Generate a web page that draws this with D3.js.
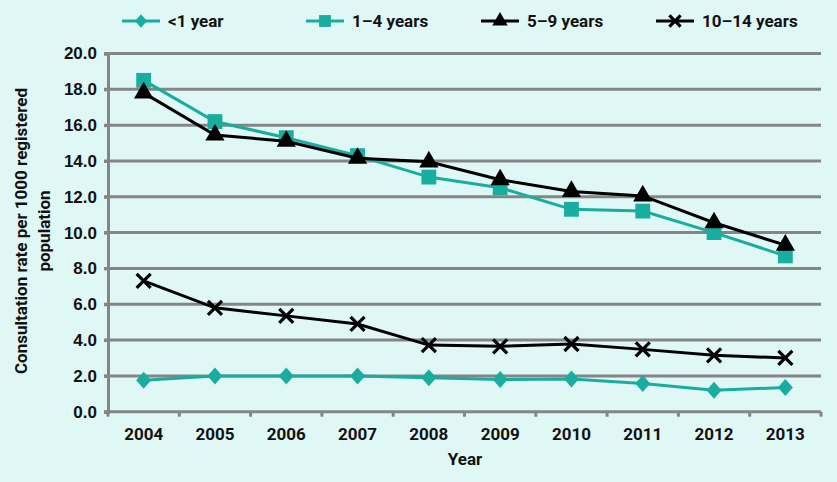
<!DOCTYPE html>
<html>
<head>
<meta charset="utf-8">
<script src="https://cdn.jsdelivr.net/npm/d3@7"></script>
<style>
  body { margin: 0; background: #dff7f5; }
  svg { display: block; font-family: Roboto, "DejaVu Sans", sans-serif; font-weight: bold; }
</style>
</head>
<body>
<svg id="chart" viewBox="0 0 837 482" width="837" height="482"></svg>
<script>
const years = [2004, 2005, 2006, 2007, 2008, 2009, 2010, 2011, 2012, 2013]
const under1 = [1.75, 2.0, 2.0, 2.0, 1.9, 1.8, 1.83, 1.58, 1.2, 1.35]
const age1to4 = [18.5, 16.2, 15.3, 14.3, 13.1, 12.5, 11.3, 11.2, 10.0, 8.7]
const age5to9 = [17.8, 15.45, 15.1, 14.15, 13.95, 12.95, 12.3, 12.05, 10.55, 9.3]
const age10to14 = [7.3, 5.8, 5.35, 4.9, 3.72, 3.65, 3.78, 3.48, 3.15, 3.0]
const yTicks = [0, 2, 4, 6, 8, 10, 12, 14, 16, 18, 20]

const teal = "#19ad9f"
const grey = "#858585"

const series = [
    {name: "<1 year", values: under1, color: teal, shape: "diamond", lx: 122},
    {name: "1\u20134 years", values: age1to4, color: teal, shape: "square", lx: 306},
    {name: "5\u20139 years", values: age5to9, color: "#000", shape: "triangle", lx: 481},
    {name: "10\u201314 years", values: age10to14, color: "#000", shape: "cross", lx: 656}
]

const svg = d3.select("#chart")
const plotL = 108, plotR = 821, plotT = 53.5, plotB = 411.7

const x = d3.scalePoint().domain(years).range([plotL, plotR]).padding(0.5)
const y = d3.scaleLinear().domain([0, 20]).range([plotB, plotT])

// gridlines
svg.append("g")
    .selectAll("line")
    .data(yTicks.filter(d => d > 0))
    .enter()
    .append("line")
    .attr("x1", plotL - 4).attr("x2", plotR)
    .attr("y1", d => y(d)).attr("y2", d => y(d))
    .attr("stroke", grey).attr("stroke-width", 3)

// y axis
const yAxis = svg.append("g")
    .attr("transform", `translate(${plotL},0)`)
    .call(d3.axisLeft(y).tickValues(yTicks).tickFormat(d3.format(".1f")).tickSize(4).tickPadding(7))
yAxis.select(".domain").attr("stroke", grey).attr("stroke-width", 3)
yAxis.selectAll(".tick line").attr("stroke", grey).attr("stroke-width", 3)
yAxis.selectAll("text").attr("font-size", 17).attr("fill", "#111").attr("font-family", null)

// x axis: ticks between categories
const step = x.step()
svg.append("line")
    .attr("x1", plotL - 4).attr("x2", plotR)
    .attr("y1", plotB).attr("y2", plotB)
    .attr("stroke", grey).attr("stroke-width", 3)
svg.append("g")
    .selectAll("line")
    .data(d3.range(years.length + 1))
    .enter()
    .append("line")
    .attr("x1", i => plotL + i * step).attr("x2", i => plotL + i * step)
    .attr("y1", plotB).attr("y2", plotB + 5)
    .attr("stroke", grey).attr("stroke-width", 3)
svg.append("g")
    .selectAll("text")
    .data(years)
    .enter()
    .append("text")
    .attr("x", d => x(d)).attr("y", 440)
    .attr("text-anchor", "middle")
    .attr("font-size", 17).attr("fill", "#111")
    .text(d => d)

svg.append("text")
    .attr("x", 465).attr("y", 465)
    .attr("text-anchor", "middle")
    .attr("font-size", 17).attr("fill", "#111")
    .text("Year")

// y title
const yt = svg.append("text")
    .attr("transform", "translate(27,231) rotate(-90)")
    .attr("text-anchor", "middle")
    .attr("font-size", 17).attr("fill", "#111")
yt.append("tspan").attr("x", 0).attr("dy", 0).text("Consultation rate per 1000 registered")
yt.append("tspan").attr("x", 0).attr("dy", 23).text("population")

function marker(g, shape, color, k) {
    if (shape === "cross") {
        const r = 7 * k
        g.append("path")
            .attr("d", `M${-r},${-r}L${r},${r}M${-r},${r}L${r},${-r}`)
            .attr("stroke", color).attr("stroke-width", 3.2).attr("fill", "none")
    } else if (shape === "diamond") {
        const w = 7.5 * k, h = 8.5 * k
        g.append("path")
            .attr("d", `M0,${-h}L${w},0L0,${h}L${-w},0Z`)
            .attr("fill", color)
    } else {
        const sym = {square: d3.symbolSquare, triangle: d3.symbolTriangle}[shape]
        const size = {square: 220, triangle: 160}[shape]
        g.append("path")
            .attr("d", d3.symbol().type(sym).size(size * k * k)())
            .attr("fill", color)
    }
}

const line = d3.line()
    .x((d, i) => x(years[i]))
    .y(d => y(d))

series.forEach(s => {
    svg.append("path")
        .datum(s.values)
        .attr("d", line)
        .attr("fill", "none")
        .attr("stroke", s.color)
        .attr("stroke-width", 3)
    s.values.forEach((v, i) => {
        const g = svg.append("g").attr("transform", `translate(${x(years[i])},${y(v)})`)
        marker(g, s.shape, s.color, 1)
    })

    // legend
    const lg = svg.append("g").attr("transform", `translate(${s.lx},21)`)
    lg.append("line").attr("x1", 0).attr("x2", 38).attr("stroke", s.color).attr("stroke-width", 3)
    marker(lg.append("g").attr("transform", "translate(19,0)"), s.shape, s.color, 0.8)
    lg.append("text")
        .attr("x", 46).attr("y", 6)
        .attr("font-size", 17).attr("fill", "#111")
        .text(s.name)
})
</script>
</body>
</html>
